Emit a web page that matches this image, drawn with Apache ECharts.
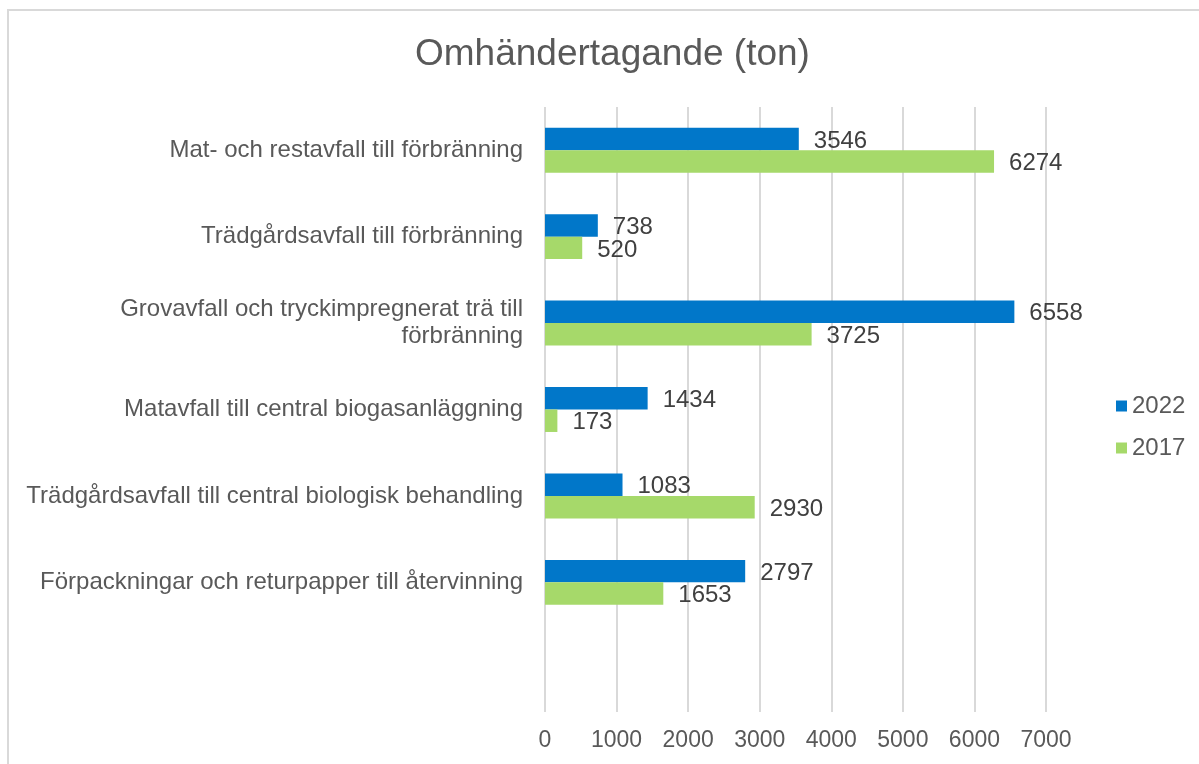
<!DOCTYPE html>
<html>
<head>
<meta charset="utf-8">
<script src="https://cdn.jsdelivr.net/npm/echarts@6/dist/echarts.min.js"></script>
<style>
  html, body { margin: 0; padding: 0; background: #fff; }
  #chart { width: 1199px; height: 764px; }
</style>
</head>
<body>
<div id="chart"></div>
<script>
var categories = [
  'Mat- och restavfall till förbränning',
  'Trädgårdsavfall till förbränning',
  'Grovavfall och tryckimpregnerat trä till\nförbränning',
  'Matavfall till central biogasanläggning',
  'Trädgårdsavfall till central biologisk behandling',
  'Förpackningar och returpapper till återvinning',
  ''
];
var values2022 = [3546, 738, 6558, 1434, 1083, 2797];
var values2017 = [6274, 520, 3725, 173, 2930, 1653];
var xTicks = [0, 1000, 2000, 3000, 4000, 5000, 6000, 7000];

var chart = echarts.init(document.getElementById('chart'));

var labelStyle = {
  show: true,
  position: 'right',
  distance: 15,
  offset: [0, 2],
  color: '#404040',
  fontSize: 24,
  fontFamily: 'Liberation Sans, Arial, sans-serif'
};

var option = {
  animation: false,
  textStyle: { fontFamily: 'Liberation Sans, Arial, sans-serif' },
  graphic: [{
    type: 'rect',
    shape: { x: 8, y: 10, width: 1200, height: 800 },
    style: { fill: 'none', stroke: '#D9D9D9', lineWidth: 2 },
    silent: true
  }],
  title: {
    text: 'Omhändertagande (ton)',
    left: 410,
    top: 31,
    textStyle: { color: '#595959', fontSize: 37, fontWeight: 'normal' }
  },
  legend: {
    orient: 'vertical',
    left: 1111,
    top: 389,
    itemWidth: 11,
    itemHeight: 11,
    itemGap: 18,
    icon: 'rect',
    textStyle: { color: '#595959', fontSize: 24 },
    data: ['2022', '2017']
  },
  grid: { left: 545, right: 153, top: 107, bottom: 52, containLabel: false },
  xAxis: {
    type: 'value',
    min: 0,
    max: 7000,
    interval: 1000,
    axisLine: { show: false },
    axisTick: { show: false },
    splitLine: { lineStyle: { color: '#D9D9D9', width: 2 } },
    axisLabel: {
      color: '#595959',
      fontSize: 23,
      margin: 17,
      formatter: function (v) { return xTicks.indexOf(v) >= 0 ? String(v) : ''; }
    }
  },
  yAxis: {
    type: 'category',
    inverse: true,
    data: categories,
    axisLine: { show: false },
    axisTick: { show: false },
    axisLabel: {
      color: '#595959',
      fontSize: 24,
      margin: 22,
      align: 'right',
      lineHeight: 27
    }
  },
  series: [
    {
      name: '2022',
      type: 'bar',
      data: values2022,
      barGap: '0%',
      barCategoryGap: '48%',
      itemStyle: { color: '#0177C9' },
      label: labelStyle
    },
    {
      name: '2017',
      type: 'bar',
      data: values2017,
      barGap: '0%',
      barCategoryGap: '48%',
      itemStyle: { color: '#A6D96A' },
      label: labelStyle
    }
  ]
};

chart.setOption(option);
window.onresize = chart.resize;
</script>
</body>
</html>
